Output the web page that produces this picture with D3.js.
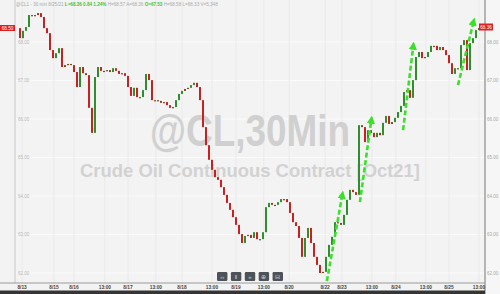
<!DOCTYPE html>
<html>
<head>
<meta charset="utf-8">
<script src="https://cdn.jsdelivr.net/npm/d3@7"></script>
<style>
  body { margin: 0; background: #f3f3f3; }
  svg { display: block; font-family: "Liberation Sans", Arial, sans-serif; }
</style>
</head>
<body>
<div id="chart"></div>
<script>
// 30 min closes (one value every ~1.5h)
var closes = [
  68.36, 68.10, 68.29, 68.39, 68.70, 68.70, 68.70, 68.75, 68.65, 68.36,
  68.23, 67.79, 67.58, 67.71, 67.84, 67.35, 67.40, 67.43, 67.40, 67.22,
  66.83, 67.35, 67.19, 67.14, 66.29, 65.64, 67.09, 67.35, 67.25, 67.25,
  67.27, 67.22, 67.32, 67.25, 67.17, 67.19, 67.12, 66.83, 66.60, 66.81,
  66.57, 66.57, 66.75, 67.17, 67.01, 66.49, 66.49, 66.47, 66.42, 66.44,
  66.36, 66.29, 66.31, 66.49, 66.65, 66.73, 66.78, 66.81, 66.88, 66.94,
  66.83, 66.49, 65.79, 65.32, 64.94, 64.68, 64.49, 64.42, 64.23, 64.03,
  63.82, 63.64, 63.45, 63.25, 63.01, 62.78, 62.96, 62.99, 62.91, 63.06,
  62.88, 62.88, 63.06, 63.71, 63.82, 63.77, 63.77, 63.84, 63.92, 63.92,
  63.84, 63.56, 63.32, 63.22, 62.91, 62.42, 62.91, 63.17, 62.78, 62.42,
  62.21, 62.00, 62.03, 62.42, 62.73, 62.94, 63.32, 63.30, 63.25, 63.51,
  63.90, 64.16, 64.10, 64.03, 65.84, 65.79, 65.40, 65.71, 65.64, 65.53,
  65.64, 65.58, 65.90, 66.08, 65.87, 65.92, 66.03, 66.18, 66.34, 66.70,
  66.75, 66.55, 67.01, 67.61, 67.74, 67.58, 67.61, 67.74, 67.90, 67.90,
  67.79, 67.87, 67.79, 67.66, 67.45, 67.17, 67.32, 67.32, 67.92, 68.05,
  67.27, 67.97, 68.10, 68.31, 68.36
];

var timeTicks = [1.7, 12.3, 19, 29.3, 37, 46.3, 55, 65, 73, 82.3, 90.7, 102.7, 108.3, 118.3, 126.3, 136.3, 144, 154];
var timeLabels = ["8/13", "8/15", "8/16", "13:00", "8/17", "13:00", "8/18", "13:00", "8/19", "13:00",
                  "8/20", "8/22", "8/23", "13:00", "8/24", "13:00", "8/25", "13:00"];
var priceTicks = [62, 63, 64, 65, 66, 67, 68];

// green arrows drawn on the chart: [startIndex, startPrice, endIndex, endPrice]
var arrowFrom = [[103.3, 61.79], [114.3, 63.84], [128.7, 65.71], [147, 66.88]];
var arrowTo   = [[108.3, 63.97], [118, 65.92], [132, 67.84], [152, 68.47]];

var lastPrice = "68.36";

var width = 500, height = 294;
var left = 15, right = 485, axisY = 283;

var svg = d3.select("#chart").append("svg")
    .attr("width", width)
    .attr("height", height);

svg.append("rect").attr("width", width).attr("height", height).attr("fill", "#f3f3f3");

var x = d3.scaleLinear().domain([0, 154]).range([17, 479]);
var y = d3.scaleLinear().domain([62, 68]).range([273, 42]);

// grid
svg.append("g").selectAll("line").data(priceTicks).enter().append("line")
    .attr("x1", left).attr("x2", right)
    .attr("y1", function(d) { return y(d); }).attr("y2", function(d) { return y(d); })
    .attr("stroke", "#fbfbfb").attr("stroke-width", 1);
svg.append("g").selectAll("line").data(timeTicks).enter().append("line")
    .attr("x1", function(d) { return x(d); }).attr("x2", function(d) { return x(d); })
    .attr("y1", 0).attr("y2", axisY)
    .attr("stroke", "#eaeaea").attr("stroke-width", 1);

// watermark
svg.append("text")
    .attr("x", 150).attr("y", 146)
    .attr("textLength", 200).attr("lengthAdjust", "spacingAndGlyphs")
    .style("font-size", "44px").style("font-weight", "bold")
    .attr("fill", "#d0d0d0")
    .text("@CL,30Min");
svg.append("text")
    .attr("x", 80).attr("y", 177)
    .attr("textLength", 340).attr("lengthAdjust", "spacingAndGlyphs")
    .style("font-size", "19px").style("font-weight", "bold")
    .attr("fill", "#d2d2d2")
    .text("Crude Oil Continuous Contract [Oct21]");

// left border and inner labels
svg.append("line").attr("x1", left).attr("x2", left).attr("y1", 0).attr("y2", axisY)
    .attr("stroke", "#c8c8c8");
svg.append("g").selectAll("text").data(priceTicks).enter().append("text")
    .attr("x", 18).attr("y", function(d) { return y(d) + 1.5; })
    .style("font-size", "4.5px").attr("fill", "#b8b8b8")
    .text(function(d) { return d3.format(".2f")(d); });

// candles: open = previous close
var bars = closes.slice(1).map(function(c, k) { return { i: k + 1, o: closes[k], c: c }; });
svg.append("g").selectAll("rect").data(bars).enter().append("rect")
    .attr("x", function(d) { return x(d.i) - 1; })
    .attr("width", 2)
    .attr("y", function(d) { return y(Math.max(d.o, d.c)); })
    .attr("height", function(d) { return Math.max(1.2, Math.abs(y(d.o) - y(d.c))); })
    .attr("fill", function(d) {
      if (Math.abs(d.c - d.o) < 0.06) return "#7a4a1c";
      return d.c > d.o ? "#2f8f2f" : "#cc1f1f";
    });

// arrows
var defs = svg.append("defs");
defs.append("marker").attr("id", "head")
    .attr("viewBox", "0 0 10 10").attr("refX", 2).attr("refY", 5)
    .attr("markerWidth", 3.2).attr("markerHeight", 3.2).attr("orient", "auto")
  .append("path").attr("d", "M0,0L10,5L0,10Z").attr("fill", "#3be02b");
svg.append("g").selectAll("line").data(arrowFrom).enter().append("line")
    .attr("x1", function(d) { return x(d[0]); })
    .attr("y1", function(d) { return y(d[1]); })
    .attr("x2", function(d, k) { return x(arrowTo[k][0]); })
    .attr("y2", function(d, k) { return y(arrowTo[k][1]); })
    .attr("stroke", "#3be02b").attr("stroke-width", 2.6)
    .attr("stroke-dasharray", "5,2.5")
    .attr("marker-end", "url(#head)");

// header line
var header = svg.append("text").attr("x", 16).attr("y", 6).style("font-size", "4.6px");
header.append("tspan").attr("fill", "#aaa").text("@CL1 - 30 min  8/25/21  ");
header.append("tspan").attr("fill", "#3bc43b").style("font-weight", "bold").text("L=68.36  0.84  1.24%  ");
header.append("tspan").attr("fill", "#aaa").text("H=68.57  A=68.36  ");
header.append("tspan").attr("fill", "#3bc43b").style("font-weight", "bold").text("O=67.53  ");
header.append("tspan").attr("fill", "#aaa").text("H=68.58  L=68.33  V=5,348");

// price tags
svg.append("rect").attr("x", 0).attr("y", 25).attr("width", 15).attr("height", 6).attr("fill", "#e02020");
svg.append("text").attr("x", 7.5).attr("y", 29.8).attr("text-anchor", "middle")
    .style("font-size", "4.6px").attr("fill", "#fff").text("68.50");

// right axis
svg.append("rect").attr("x", right).attr("y", 0).attr("width", width - right).attr("height", height).attr("fill", "#f6f6f6");
svg.append("line").attr("x1", right).attr("x2", right).attr("y1", 0).attr("y2", height)
    .attr("stroke", "#a0a0a0").attr("stroke-width", 1.5);
svg.append("g").selectAll("text").data(priceTicks).enter().append("text")
    .attr("x", 487).attr("y", function(d) { return y(d) + 1.5; })
    .style("font-size", "4.5px").attr("fill", "#a8a8a8")
    .text(function(d) { return d3.format(".2f")(d); });
svg.append("rect").attr("x", 479).attr("y", 23.5).attr("width", 14).attr("height", 7).attr("fill", "#e02020");
svg.append("text").attr("x", 486).attr("y", 28.7).attr("text-anchor", "middle")
    .style("font-size", "4.6px").attr("fill", "#fff").text(lastPrice);

// bottom axis
svg.append("line").attr("x1", 0).attr("x2", right).attr("y1", axisY).attr("y2", axisY)
    .attr("stroke", "#9a9a9a");
svg.append("g").selectAll("text").data(timeTicks).enter().append("text")
    .attr("x", function(d) { return x(d); }).attr("y", 289.2)
    .attr("text-anchor", "middle")
    .style("font-size", "4.8px").style("font-weight", "bold").attr("fill", "#444")
    .text(function(d, k) { return timeLabels[k]; });
svg.append("rect").attr("x", 0).attr("y", 290.5).attr("width", right).attr("height", 4).attr("fill", "#353535");

// zoom buttons
var buttons = ["\u2039\u203a", "\u2016", "\u00bb", "\u2295", "\u229f"];
var bx = d3.scaleBand().domain(d3.range(buttons.length)).range([217, 283]).paddingInner(0.25);
var btn = svg.append("g").selectAll("g").data(buttons).enter().append("g")
    .attr("transform", function(d, k) { return "translate(" + bx(k) + ",272)"; });
btn.append("rect").attr("width", bx.bandwidth()).attr("height", 9).attr("rx", 1.2).attr("fill", "#4d5358");
btn.append("text").attr("x", bx.bandwidth() / 2).attr("y", 6.5).attr("text-anchor", "middle")
    .style("font-size", "6px").attr("fill", "#c9d2da").text(function(d) { return d; });
</script>
</body>
</html>
